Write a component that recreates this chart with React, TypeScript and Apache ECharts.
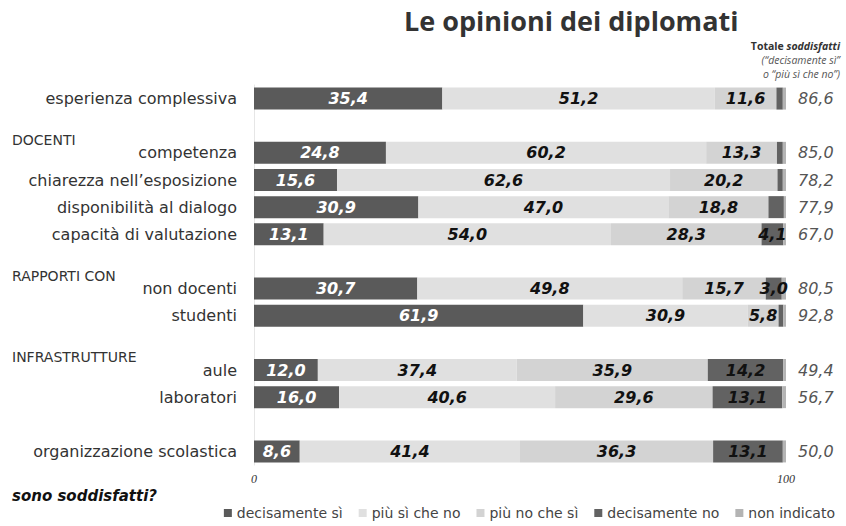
import React, { useEffect, useRef } from "react";
import * as echarts from "echarts";

const categories = [
  "esperienza complessiva", "", "competenza", "chiarezza nell’esposizione",
  "disponibilità al dialogo", "capacità di valutazione", "", "non docenti",
  "studenti", "", "aule", "laboratori", "", "organizzazione scolastica",
];
const decisamenteSi = [35.4, null, 24.8, 15.6, 30.9, 13.1, null, 30.7, 61.9, null, 12.0, 16.0, null, 8.6];
const piuSiCheNo = [51.2, null, 60.2, 62.6, 47.0, 54.0, null, 49.8, 30.9, null, 37.4, 40.6, null, 41.4];
const piuNoCheSi = [11.6, null, 13.3, 20.2, 18.8, 28.3, null, 15.7, 5.8, null, 35.9, 29.6, null, 36.3];
const decisamenteNo = [1.2, null, 1.1, 1.0, 2.9, 4.1, null, 3.0, 0.9, null, 14.2, 13.1, null, 13.1];
const nonIndicato = [0.6, null, 0.6, 0.6, 0.4, 0.5, null, 0.8, 0.5, null, 0.5, 0.7, null, 0.6];
const totaleSoddisfatti = [86.6, null, 85.0, 78.2, 77.9, 67.0, null, 80.5, 92.8, null, 49.4, 56.7, null, 50.0];
const sections = [
  { text: "DOCENTI", slot: 2 },
  { text: "RAPPORTI CON", slot: 7 },
  { text: "INFRASTRUTTURE", slot: 10 },
];
const seriesNames = ["decisamente sì", "più sì che no", "più no che sì", "decisamente no", "non indicato"];
const colors = ["#5a5a5a", "#e0e0e0", "#d3d3d3", "#626262", "#b4b4b4"];
const xTicks = [0, 100];

const fmt = (v: number) => v.toFixed(1).replace(".", ",");
const FONT = "DejaVu Sans";

export default function App() {
  const ref = useRef<HTMLDivElement>(null);
  useEffect(() => {
    document.body.style.margin = "0";
    if (!ref.current) return;
    const chart = echarts.init(ref.current, null, { renderer: "svg" });
    const valueLabel = (color: string, minShow: number) => ({
      show: true,
      position: "inside",
      color,
      fontFamily: FONT,
      fontSize: 16,
      fontWeight: "bold",
      fontStyle: "italic",
      formatter: (p: any) => (p.value != null && p.value >= minShow ? fmt(p.value) : ""),
    });
    const datasets = [decisamenteSi, piuSiCheNo, piuNoCheSi, decisamenteNo, nonIndicato];
    const series: any[] = datasets.map((d, i) => ({
      name: seriesNames[i],
      type: "bar",
      stack: "tot",
      barWidth: 22,
      data: d,
      itemStyle: { color: colors[i] },
      label: i === 4
        ? {
            show: true,
            position: "right",
            distance: 12,
            color: "#555",
            fontFamily: FONT,
            fontSize: 16,
            fontStyle: "italic",
            formatter: (p: any) => {
              const t = totaleSoddisfatti[p.dataIndex];
              return t == null ? "" : fmt(t);
            },
          }
        : valueLabel(i === 0 ? "#ffffff" : "#111111", 3),
    }));
    chart.setOption({
      animation: false,
      title: {
        text: "Le opinioni dei diplomati",
        left: 399,
        top: 2,
        textStyle: { fontFamily: "Open Sans", fontSize: 27, fontWeight: "bold", color: "#333" },
      },
      legend: {
        data: seriesNames,
        right: 6,
        bottom: 1,
        icon: "rect",
        itemWidth: 8,
        itemHeight: 8,
        itemGap: 16,
        textStyle: { fontFamily: FONT, fontSize: 14, color: "#444" },
      },
      grid: { left: 254, right: 60, top: 85, bottom: 61 },
      xAxis: {
        type: "value",
        min: xTicks[0],
        max: xTicks[1],
        interval: 100,
        axisLine: { show: false },
        axisTick: { show: false },
        splitLine: { show: false },
        axisLabel: {
          fontFamily: "Liberation Serif",
          fontStyle: "italic",
          fontSize: 12,
          color: "#333",
          margin: 8,
        },
      },
      yAxis: {
        type: "category",
        inverse: true,
        data: categories,
        axisLine: { show: true, lineStyle: { color: "#e6e6e6" } },
        axisTick: { show: false },
        axisLabel: { fontFamily: FONT, fontSize: 16, color: "#333", margin: 17 },
      },
      series,
    });
    const headerTexts = sections.map((s) => {
      const y = chart.convertToPixel({ yAxisIndex: 0 }, s.slot) as number;
      return {
        type: "text",
        x: 12,
        y: y - 20,
        style: { text: s.text, fontFamily: FONT, fontSize: 14, fill: "#333" },
      };
    });
    const rs = (weight: string, italic: boolean, fill: string) => ({
      fontFamily: "Open Sans",
      fontSize: 10.5,
      lineHeight: 14,
      fontWeight: weight,
      fontStyle: italic ? "italic" : "normal",
      fill,
      align: "right",
    });
    chart.setOption({
      graphic: [
        ...headerTexts,
        {
          type: "text",
          x: 840,
          y: 39,
          style: {
            text: "{b|Totale }{bi|soddisfatti}\n{i|(“decisamente sì”}\n{i|o “più sì che no”)}",
            textAlign: "right",
            fontFamily: "Open Sans",
            fontSize: 10.5,
            lineHeight: 14,
            rich: {
              b: rs("bold", false, "#333"),
              bi: rs("bold", true, "#333"),
              i: rs("normal", true, "#555"),
            },
          },
        },
        {
          type: "text",
          x: 12,
          y: 488,
          style: {
            text: "sono soddisfatti?",
            fontFamily: FONT,
            fontSize: 15,
            fontWeight: "bold",
            fontStyle: "italic",
            fill: "#111",
          },
        },
      ],
    });
    return () => chart.dispose();
  }, []);
  return <div ref={ref} style={{ width: 846, height: 526 }} />;
}
